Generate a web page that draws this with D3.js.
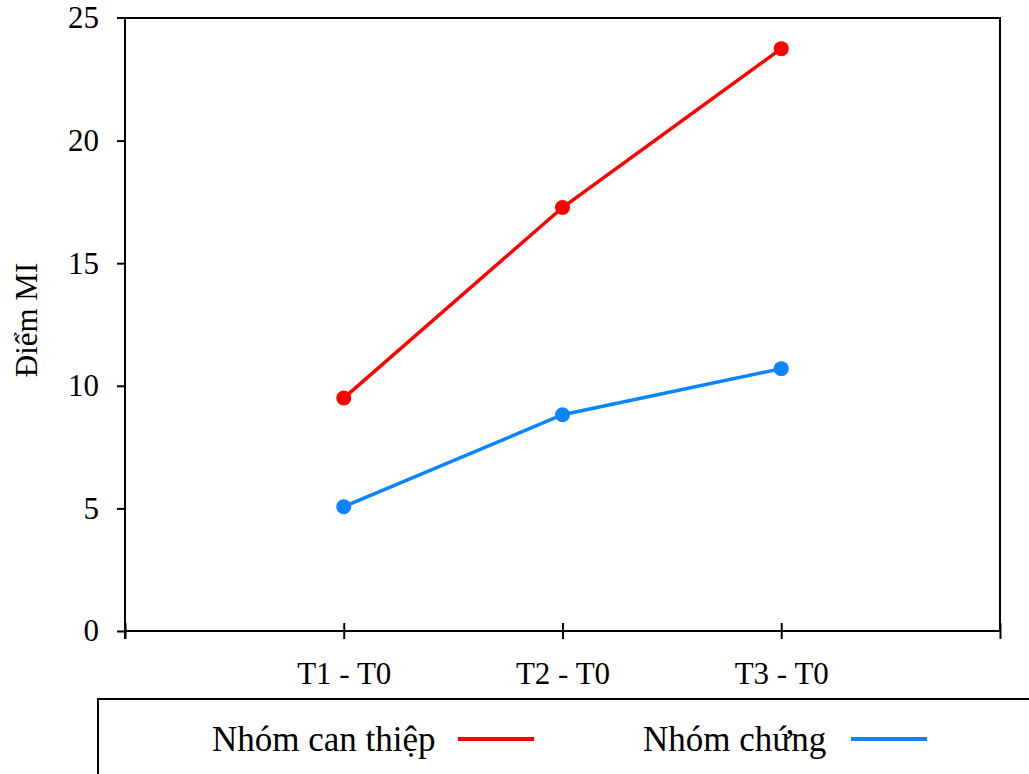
<!DOCTYPE html>
<html>
<head>
<meta charset="utf-8">
<script src="https://cdn.jsdelivr.net/npm/d3@7"></script>
<style>
  html, body { margin: 0; padding: 0; background: #fff; }
  svg { display: block; }
</style>
</head>
<body>
<svg id="chart" width="1029" height="774"></svg>
<script>
// Mean MI score change from baseline, by group
const categories = ["T1 - T0", "T2 - T0", "T3 - T0"];
const interventionValues = [9.5, 17.27, 23.75];
const controlValues = [5.07, 8.82, 10.7];
const yTicks = [0, 5, 10, 15, 20, 25];
const seriesNames = ["Nhóm can thiệp", "Nhóm chứng"];
const seriesColors = ["#ff0000", "#0a84ff"];

const svg = d3.select("#chart");
const font = "'Liberation Serif', 'Times New Roman', serif";

const plot = { left: 125, right: 1000, top: 18, bottom: 631 };

// x positions: one slot on each side of the three categories
const x = d3.scaleLinear().domain([0, categories.length + 1]).range([plot.left, plot.right]);
const y = d3.scaleLinear().domain([0, 25]).range([plot.bottom, plot.top]);

// frame (top and right)
svg.append("path")
  .attr("d", `M${plot.left},${plot.top}H${plot.right}V${plot.bottom}`)
  .attr("fill", "none").attr("stroke", "#000").attr("stroke-width", 2);

// y axis
const yAxis = svg.append("g")
  .attr("transform", `translate(${plot.left},0)`)
  .call(d3.axisLeft(y).tickValues(yTicks).tickSize(8).tickPadding(18).tickFormat(d3.format("d")));
yAxis.select(".domain").attr("stroke", "#000").attr("stroke-width", 2)
  .attr("d", `M-8,${plot.top}H0V${plot.bottom + 8}`);
yAxis.selectAll(".tick line").attr("stroke", "#000").attr("stroke-width", 2);
yAxis.selectAll(".tick text")
  .attr("font-family", font).attr("font-size", 31).attr("fill", "#000");
yAxis.selectAll(".tick").filter(d => d === 25).select("line").remove();

// x axis with ticks crossing the line
const xTickVals = d3.range(0, categories.length + 2);
const xAxis = svg.append("g")
  .attr("transform", `translate(0,${plot.bottom})`)
  .call(d3.axisBottom(x).tickValues(xTickVals).tickSize(8).tickPadding(23)
    .tickFormat(d => categories[d - 1] || ""));
xAxis.select(".domain").attr("stroke", "#000").attr("stroke-width", 2)
  .attr("d", `M${plot.left},0H${plot.right}`);
xAxis.selectAll(".tick line").attr("stroke", "#000").attr("stroke-width", 2)
  .attr("y1", -8).attr("y2", 8);
xAxis.selectAll(".tick text")
  .attr("font-family", font).attr("font-size", 31).attr("fill", "#000");

// y axis title
svg.append("text")
  .attr("transform", `translate(37,320) rotate(-90)`)
  .attr("text-anchor", "middle")
  .attr("font-family", font).attr("font-size", 31).attr("fill", "#000")
  .text("Điểm MI");

// series
const series = [interventionValues, controlValues];
const line = d3.line().x((d, i) => x(i + 1)).y(d => y(d));
series.forEach((vals, s) => {
  svg.append("path")
    .datum(vals)
    .attr("d", line)
    .attr("fill", "none")
    .attr("stroke", seriesColors[s])
    .attr("stroke-width", 3.5);
  svg.selectAll(null)
    .data(vals)
    .enter().append("circle")
    .attr("cx", (d, i) => x(i + 1))
    .attr("cy", d => y(d))
    .attr("r", 7.5)
    .attr("fill", seriesColors[s]);
});

// legend box
svg.append("rect")
  .attr("x", 98).attr("y", 699).attr("width", 1000).attr("height", 200)
  .attr("fill", "none").attr("stroke", "#000").attr("stroke-width", 2);

const legendItems = [
  { textX: 212, lineX: 458 },
  { textX: 643, lineX: 851 }
];
legendItems.forEach((item, i) => {
  svg.append("text")
    .attr("x", item.textX).attr("y", 751)
    .attr("font-family", font).attr("font-size", 35).attr("fill", "#000")
    .text(seriesNames[i]);
  svg.append("line")
    .attr("x1", item.lineX).attr("x2", item.lineX + 76)
    .attr("y1", 739).attr("y2", 739)
    .attr("stroke", seriesColors[i]).attr("stroke-width", 4);
});
</script>
</body>
</html>
